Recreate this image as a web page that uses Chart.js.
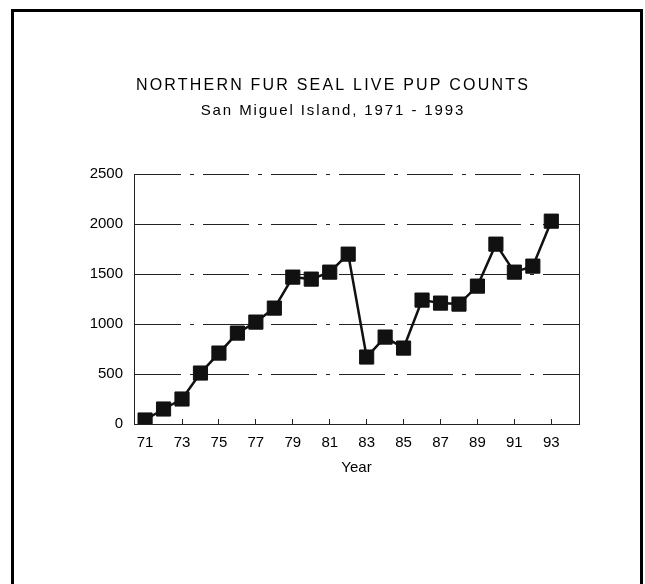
<!DOCTYPE html>
<html>
<head>
<meta charset="utf-8">
<script src="https://cdn.jsdelivr.net/npm/chart.js@4/dist/chart.umd.min.js"></script>
<style>
    body { margin: 0; background: #fff; }
    #wrap { position: relative; width: 645px; height: 584px; overflow: hidden; }
    #frame {
        position: absolute; left: 11px; top: 9px; width: 626px; height: 600px;
        border-left: 3px solid #000; border-top: 3px solid #000; border-right: 3px solid #000;
        pointer-events: none;
    }
</style>
</head>
<body>
<div id="wrap">
    <canvas id="myChart" width="645" height="584"></canvas>
    <div id="frame"></div>
</div>
<script>
var titel = "NORTHERN FUR SEAL LIVE PUP COUNTS";
var untertitel = "San Miguel Island, 1971 - 1993";
var jahre = [71, 72, 73, 74, 75, 76, 77, 78, 79, 80, 81, 82, 83, 84, 85, 86, 87, 88, 89, 90, 91, 92, 93];
var welpen = [40, 150, 250, 510, 710, 910, 1020, 1160, 1470, 1450, 1520, 1700, 670, 870, 760, 1240, 1210, 1200, 1380, 1800, 1520, 1580, 2030];
var xTicks = [71, 73, 75, 77, 79, 81, 83, 85, 87, 89, 91, 93];
var yTicks = [0, 500, 1000, 1500, 2000, 2500];

var schrift = "'Liberation Sans', Arial, sans-serif";
var strich = [46, 9, 4, 9];

// letter spacing for the title lines, the scan is wide
var abstand = {};
abstand[titel] = "2.2px";
abstand[untertitel] = "1.9px";
var breiteTitel = {
    id: 'breiteTitel',
    afterInit: function (chart) {
        chart.boxes.forEach(function (box) {
            var sp = box.options && abstand[box.options.text];
            if (!sp) {
                return;
            }
            var draw = box.draw;
            box.draw = function () {
                chart.ctx.letterSpacing = sp;
                draw.apply(this, arguments);
                chart.ctx.letterSpacing = "0px";
            };
        });
    }
};

var punkte = jahre.map(function (j, i) {
    return {x: j, y: welpen[i]};
});

var canvas = document.getElementById('myChart');
var mychart = new Chart(canvas, {
    type: 'line',
    data: {
        datasets: [{
                data: punkte,
                borderColor: "#111",
                borderWidth: 2.5,
                backgroundColor: "#111",
                pointStyle: 'rect',
                pointRadius: 10,
                pointBorderWidth: 1,
                pointBorderColor: "#111",
                pointBackgroundColor: "#111",
                tension: 0,
                fill: false
            }]
    },
    plugins: [breiteTitel],
    options: {
        responsive: false,
        animation: false,
        layout: {padding: {left: 21, right: 0, top: 0, bottom: 107}},
        plugins: {
            legend: {display: false},
            tooltip: {enabled: false},
            title: {
                display: true,
                text: titel,
                color: "#000",
                font: {family: schrift, size: 16, weight: 'normal', lineHeight: 1.2},
                padding: {top: 76, bottom: 0}
            },
            subtitle: {
                display: true,
                text: untertitel,
                color: "#000",
                font: {family: schrift, size: 15, weight: 'normal', lineHeight: 1.2},
                padding: {top: 6.8, bottom: 54.2}
            }
        },
        scales: {
            x: {
                type: 'linear',
                min: 70.4,
                max: 94.5,
                afterFit: function (scale) {
                    scale.height = 53;
                },
                afterBuildTicks: function (scale) {
                    scale.ticks = xTicks.map(function (v) {
                        return {value: v};
                    });
                },
                ticks: {
                    color: "#000",
                    font: {family: schrift, size: 15},
                    padding: 14.6,
                    maxRotation: 0,
                    autoSkip: false,
                    callback: function (v) {
                        return String(v);
                    }
                },
                grid: {
                    drawOnChartArea: false,
                    drawTicks: true,
                    tickLength: -5,
                    color: "#222",
                    lineWidth: 1
                },
                border: {display: true, color: "#222", width: 1, dash: strich},
                title: {
                    display: true,
                    text: "Year",
                    color: "#000",
                    font: {family: schrift, size: 15, lineHeight: 1.2},
                    padding: {top: 8.6, bottom: 0}
                }
            },
            y: {
                min: 0,
                max: 2500,
                afterFit: function (scale) {
                    scale.width = 113;
                },
                afterBuildTicks: function (scale) {
                    scale.ticks = yTicks.map(function (v) {
                        return {value: v};
                    });
                },
                ticks: {
                    color: "#000",
                    font: {family: schrift, size: 15},
                    padding: 11,
                    callback: function (v) {
                        return String(v);
                    }
                },
                grid: {
                    drawTicks: false,
                    color: "#222",
                    lineWidth: 1
                },
                border: {display: true, color: "#222", width: 1, dash: strich}
            },
            y2: {
                position: 'right',
                min: 0,
                max: 2500,
                afterFit: function (scale) {
                    scale.width = 66;
                },
                ticks: {display: false},
                grid: {display: false, drawTicks: false},
                border: {display: true, color: "#222", width: 1, dash: [8, 8]}
            }
        }
    }
});
</script>
</body>
</html>
